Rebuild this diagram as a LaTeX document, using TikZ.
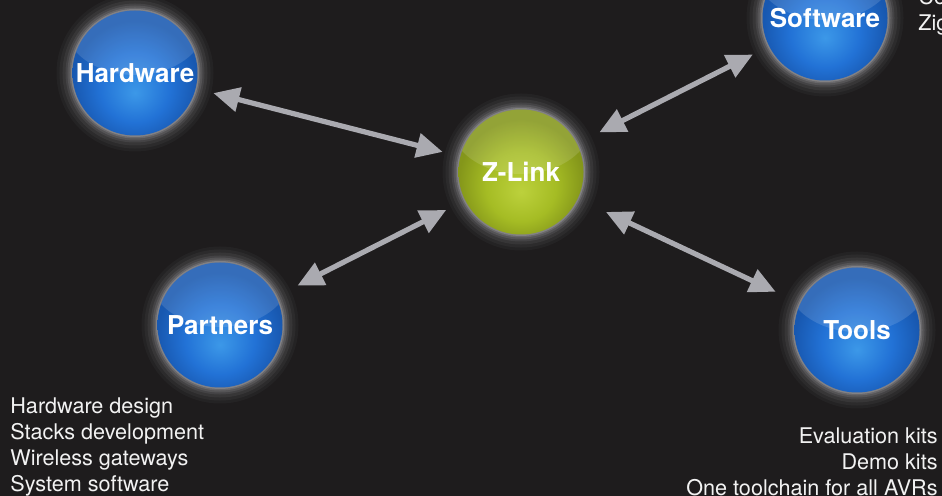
\documentclass[tikz,border=0pt]{standalone}
\usepackage{fontspec}
\setmainfont{TeX Gyre Heros}
\usetikzlibrary{arrows.meta}

\definecolor{bgdark}{HTML}{1E1C1D}
\definecolor{blueLight}{HTML}{3C98E8}
\definecolor{blueMid}{HTML}{2272D6}
\definecolor{blueDark}{HTML}{1858B0}
\definecolor{limeLight}{HTML}{BCD13C}
\definecolor{limeMid}{HTML}{A5BC24}
\definecolor{limeDark}{HTML}{84961A}
\definecolor{halo}{HTML}{D0D0D4}
\definecolor{arrowgray}{HTML}{AAAAB0}

\pgfdeclareradialshading{bluebulb}{\pgfpoint{0bp}{-8bp}}{color(0bp)=(blueLight); color(14bp)=(blueMid); color(25bp)=(blueDark); color(50bp)=(blueDark)}
\pgfdeclareradialshading{limebulb}{\pgfpoint{0bp}{-8bp}}{color(0bp)=(limeLight); color(14bp)=(limeMid); color(25bp)=(limeDark); color(50bp)=(limeDark)}

\tikzset{%
  >={Triangle[length=13pt,width=12pt]},
  % Specifications for style of nodes:
        bubble/.style = {circle, minimum size=62.5pt, inner sep=0pt,
                         text=white, font=\bfseries\fontsize{13}{15}\selectfont,
                         preaction={draw=halo, line width=16pt, opacity=.04},
                         preaction={draw=halo, line width=13pt, opacity=.05},
                         preaction={draw=halo, line width=10pt, opacity=.07},
                         preaction={draw=halo, line width=7pt, opacity=.09},
                         preaction={draw=halo, line width=5pt, opacity=.12},
                         preaction={draw=halo, line width=3pt, opacity=.16},
                         preaction={draw=halo, line width=1.5pt, opacity=.25},
                         path picture={\fill[white, opacity=.13]
                           ([yshift=26pt]path picture bounding box.center)
                           ellipse (36pt and 27pt);}},
    bluebubble/.style = {bubble, shading=bluebulb},
    limebubble/.style = {bubble, shading=limebulb},
          note/.style = {inner sep=0pt, text=white!90!gray,
                         font=\fontsize{10.8}{13.05}\selectfont},
          link/.style = {<->, draw=arrowgray, line width=2.6pt},
}

\begin{document}
\begin{tikzpicture}[x=0.5pt, y=-0.5pt]

\useasboundingbox (0,0) rectangle (942,496);
\fill[bgdark] (0,0) rectangle (942,496);

\node (ZLink)    [limebubble] at (521,172) {Z-Link};

\node (Hardware) [bluebubble] at (135,73)  {Hardware};

\node (Software) [bluebubble] at (825,18)  {Software};

\node (Partners) [bluebubble] at (220,325) {Partners};

\node (Tools)    [bluebubble] at (857,330) {Tools};

\node (SoftwareNotes) [note, anchor=north west, align=left]  at (918,-12)
  {Co\\Zig};
\node (PartnerNotes)  [note, anchor=north west, align=left]  at (10,397)
  {Hardware design\\Stacks development\\Wireless gateways\\System software};
\node (ToolNotes)     [note, anchor=north east, align=right] at (938,427)
  {Evaluation kits\\Demo kits\\One toolchain for all AVRs};

\draw[link, shorten <=9pt,  shorten >=9pt]    (Hardware) -- (ZLink);
\draw[link, shorten <=9pt,  shorten >=12.5pt] (Software) -- (ZLink);
\draw[link, shorten <=12pt, shorten >=10.5pt] (Partners) -- (ZLink);
\draw[link, shorten <=13.5pt, shorten >=15.5pt] (Tools) -- (ZLink);
\end{tikzpicture}
\end{document}
